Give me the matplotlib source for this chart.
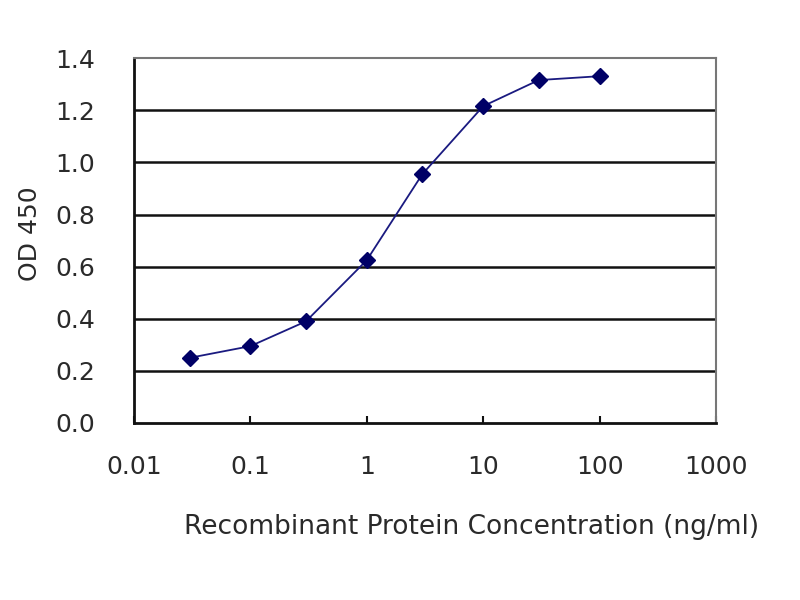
import numpy as np
import matplotlib.pyplot as plt

plt.rcParams['font.family'] = ['DejaVu Sans']

conc = [0.03, 0.1, 0.3, 1, 3, 10, 30, 100]
od = [0.25, 0.295, 0.39, 0.625, 0.955, 1.216, 1.316, 1.331]
yticks = [0.0, 0.2, 0.4, 0.6, 0.8, 1.0, 1.2, 1.4]
xticks = [0.01, 0.1, 1, 10, 100, 1000]
xticklabels = ['0.01', '0.1', '1', '10', '100', '1000']

fig = plt.figure(figsize=(8, 6), dpi=100)
ax = fig.add_axes([0.1675, 0.295, 0.7275, 0.608])

for y in yticks[1:-1]:
    ax.axhline(y, color='#111111', linewidth=1.8, zorder=1)

ax.plot(conc, od, color='#1a1a80', linewidth=1.3, marker='D', markersize=8,
        markerfacecolor='#000066', markeredgecolor='#000066', zorder=3)

ax.set_xscale('log')
ax.set_xlim(0.01, 1000)
ax.set_ylim(0, 1.4)
ax.set_xticks(xticks)
ax.set_xticklabels(xticklabels)
ax.minorticks_off()
ax.set_yticks(yticks)
ax.set_yticklabels(['%.1f' % v for v in yticks])

ax.tick_params(axis='x', direction='in', length=5, width=1.5, colors='#111111',
               labelcolor='#2a2a2a', labelsize=18, pad=23)
ax.tick_params(axis='y', length=0, labelcolor='#2a2a2a', labelsize=18, pad=28)

for s in ['left', 'bottom']:
    ax.spines[s].set_color('#111111')
    ax.spines[s].set_linewidth(2)
for s in ['top', 'right']:
    ax.spines[s].set_color('#777777')
    ax.spines[s].set_linewidth(1.5)

ax.set_xlabel('Recombinant Protein Concentration (ng/ml)', fontsize=19,
              color='#2a2a2a')
ax.xaxis.label.set_va('center')
ax.xaxis.set_label_coords(0.58, -0.286)
ax.set_ylabel('OD 450', fontsize=18, color='#2a2a2a')
ax.yaxis.label.set_va('center')
ax.yaxis.set_label_coords(-0.179, 0.52)

fig.savefig('out.png', dpi=100)
